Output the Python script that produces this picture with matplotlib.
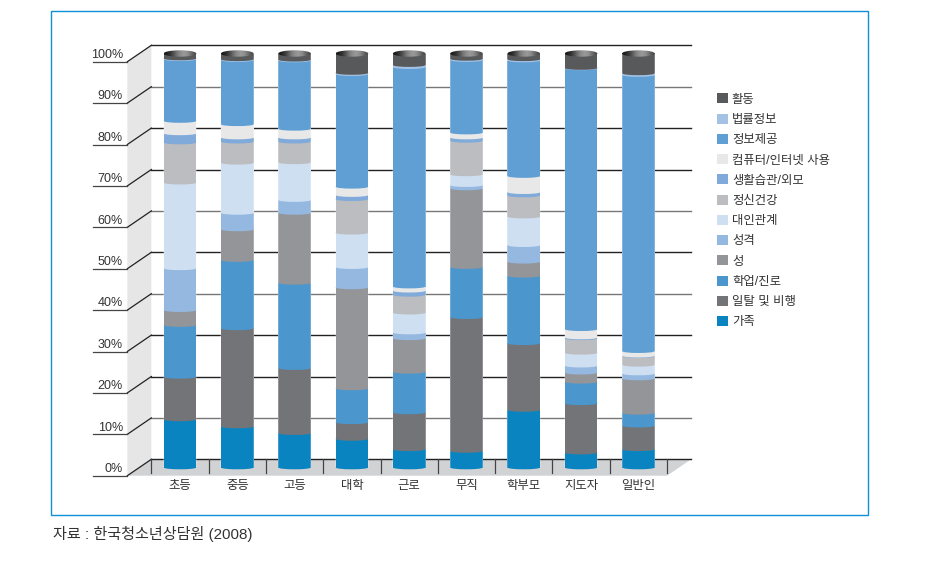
import numpy as np
import matplotlib
matplotlib.use('Agg')
import matplotlib.pyplot as plt
from matplotlib.patches import Ellipse, Polygon, Rectangle

plt.rcParams['font.family'] = ['Liberation Sans', 'Noto Sans CJK KR', 'DejaVu Sans']

# groups on the x axis
categories = ['초등', '중등', '고등', '대학', '근로', '무직', '학부모', '지도자', '일반인']
y_ticks = [0, 10, 20, 30, 40, 50, 60, 70, 80, 90, 100]

# series values, bottom of the stack first
gajok = [11.6, 9.9, 8.3, 6.9, 4.4, 4.0, 13.9, 3.6, 4.4]
ciltal = [10.3, 23.7, 15.7, 4.0, 8.9, 32.3, 16.1, 11.9, 5.7]
hakup = [12.5, 16.5, 20.6, 8.2, 9.8, 12.1, 16.3, 5.2, 3.1]
seong = [3.6, 7.4, 16.9, 24.4, 8.1, 19.0, 3.4, 2.2, 8.3]
seonggyeok = [10.1, 4.0, 3.1, 4.9, 1.4, 0.8, 4.0, 1.7, 1.2]
daein = [20.7, 12.1, 9.1, 8.3, 4.8, 2.6, 6.9, 3.1, 2.1]
jeongsin = [9.7, 5.1, 5.0, 8.1, 4.3, 8.1, 5.1, 3.5, 2.1]
saenghwal = [2.2, 1.0, 1.0, 1.0, 1.0, 0.8, 0.8, 0.2, 0.1]
computer = [3.0, 3.2, 2.1, 2.0, 1.0, 1.2, 3.9, 2.0, 1.1]
jeongbo = [14.9, 15.5, 16.5, 27.2, 53.0, 17.5, 27.9, 63.0, 66.7]
beopryul = [0.2, 0.2, 0.2, 0.3, 0.5, 0.3, 0.3, 0.1, 0.4]
hwaldong = [1.2, 1.4, 1.5, 4.7, 2.8, 1.3, 1.4, 3.5, 4.8]

series = [gajok, ciltal, hakup, seong, seonggyeok, daein, jeongsin,
          saenghwal, computer, jeongbo, beopryul, hwaldong]
labels = ['가족', '일탈 및 비행', '학업/진로', '성', '성격', '대인관계', '정신건강',
          '생활습관/외모', '컴퓨터/인터넷 사용', '정보제공', '법률정보', '활동']
colors = ['#0a84c1', '#737477', '#4a96cd', '#939598', '#94b8e0', '#cfdff2',
          '#bcbdc0', '#7faad9', '#e8e8e9', '#5f9fd3', '#a3c2e4', '#58595b']

W, H = 933, 569
fig = plt.figure(figsize=(W / 100, H / 100), dpi=100)
ax = fig.add_axes([0, 0, 1, 1])

# axes cover the whole figure: 57.3 px per group, 4.14 px per percent
px_x, px_y = 57.3, 4.14
ax.set_xlim(-180 / px_x, (W - 180) / px_x)
ax.set_ylim((467.5 - H) / px_y, 467.5 / px_y)
ax.axis('off')

dx = 12 / px_x      # half the depth of the 3d box
dy = 8.2 / px_y
xl, xr = -0.5 - 2 * dx, 8.5   # front edge of the floor

# wall and floor
ax.add_patch(Polygon([(xl, -dy), (xl + 2 * dx, dy), (xl + 2 * dx, 100 + dy), (xl, 100 - dy)],
                     fc='#e6e6e6', ec='none', zorder=1))
ax.add_patch(Polygon([(xl, -dy), (xl + 2 * dx, dy), (xr + 2 * dx, dy), (xr, -dy)],
                     fc='#d1d2d4', ec='none', zorder=1))

grid_colors = ['#222222', '#777777', '#222222', '#222222', '#777777', '#222222',
               '#777777', '#222222', '#222222', '#777777', '#222222']
for t, c in zip(y_ticks, grid_colors):
    ax.plot([xl + 2 * dx, xr + 2 * dx], [t + dy, t + dy], color=c, lw=1, zorder=2)
    ax.plot([xl, xl + 2 * dx], [t - dy, t + dy], color='#222222', lw=0.9, zorder=2)
    ax.plot([xl - 34 / px_x, xl], [t - dy, t - dy], color='#444444', lw=0.9, zorder=2)
    ax.text(xl - 4.5 / px_x, t - 0.35, f'{t}%', ha='right', va='center',
            fontsize=9.0, color='#333333', zorder=3)

# ticks on the floor
for k in range(10):
    xt = xl + 2 * dx + k
    ax.plot([xt, xt], [dy, dy - 13.5 / px_y], color='#444444', lw=0.9, zorder=2)

x = np.arange(len(categories))
bar_w = 32.7 / px_x
bot = np.zeros(len(categories))
handles = []
for vals, col, lab in zip(series, colors, labels):
    bars = ax.bar(x, vals, bar_w, bottom=bot, color=col, label=lab, zorder=4, lw=0)
    handles.append(bars[0])
    for xi, b in zip(x, bot):
        # the round underside of each cylinder part
        ax.add_patch(Ellipse((xi, b), bar_w, 3.6 / px_y, fc=col, ec='none', zorder=4))
    bot = bot + np.array(vals)

# light sides of the cylinders
for xi in x:
    for sx in (-1, 1):
        ax.add_patch(Rectangle((xi + sx * bar_w / 2 - 0.5 / px_x, 0), 1 / px_x, 100,
                               fc='white', alpha=0.22, ec='none', zorder=5))

# cap on top, dark at the left and lighter in the middle
grad = np.array([[0.1, 0.18, 0.3, 0.45, 0.55, 0.6, 0.55, 0.42, 0.3]])
for xi, total in zip(x, bot):
    im = ax.imshow(grad, cmap='gray', vmin=0, vmax=1, aspect='auto', zorder=6,
                   interpolation='bilinear',
                   extent=(xi - bar_w / 2, xi + bar_w / 2, total - 4 / px_y, total + 4 / px_y))
    cap = Ellipse((xi, total), bar_w, 6.4 / px_y, fc='none', ec='none', transform=ax.transData)
    ax.add_patch(cap)
    im.set_clip_path(cap)
# imshow resets the limits
ax.set_xlim(-180 / px_x, (W - 180) / px_x)
ax.set_ylim((467.5 - H) / px_y, 467.5 / px_y)

for xi, name in zip(x, categories):
    ax.text(xi, (467.5 - 486) / px_y, name, ha='center', va='center',
            fontsize=8.9, color='#333333')

# legend, top entry is the top of the stack
leg = ax.legend(handles[::-1], labels[::-1], loc='upper left', frameon=False,
                bbox_to_anchor=(715 / W, 1 - 91 / H), fontsize=8.9,
                handlelength=0.85, handleheight=0.85, handletextpad=0.32,
                labelspacing=0.65, borderpad=0.2, borderaxespad=0)
for t in leg.get_texts():
    t.set_color('#333333')

# outer frame and the source line
fig.add_artist(Rectangle((50.5 / W, 1 - 515 / H), 817.5 / W, 504.5 / H, fill=False,
                         ec='#0f8fd6', lw=1.0, transform=fig.transFigure))
fig.text(53 / W, 1 - 534 / H, '자료 : 한국청소년상담원 (2008)', ha='left', va='center',
         fontsize=10.9, color='#333333')

fig.savefig('out.png', dpi=100)
